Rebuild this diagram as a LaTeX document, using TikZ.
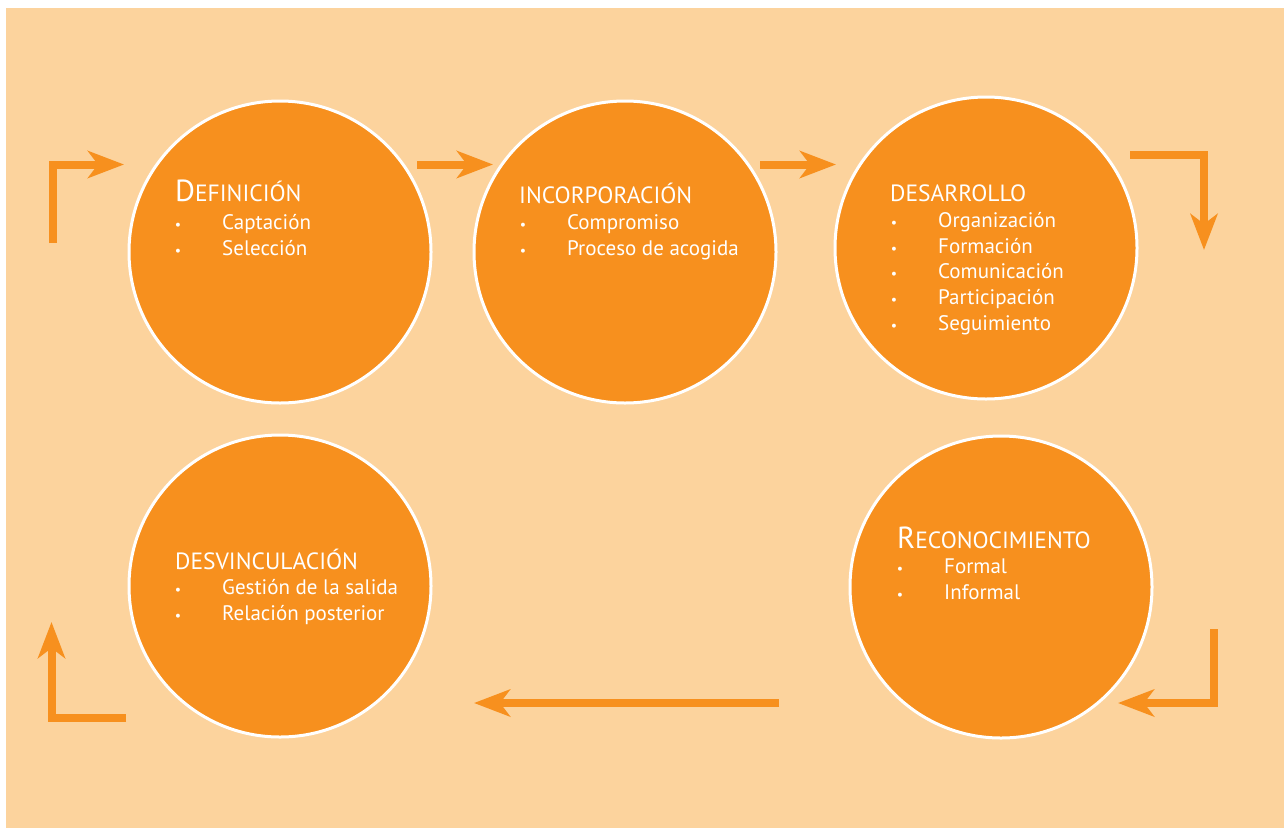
\documentclass[tikz,border=0pt]{standalone}
\usepackage{fontspec}
\setmainfont{PT Sans}
\usetikzlibrary{arrows.meta}
\definecolor{peach}{HTML}{FCD39D}
\definecolor{orng}{HTML}{F7901E}
\newcommand{\ttlfont}{\fontsize{23.5}{26}\selectfont}
\newcommand{\bigini}{\fontsize{30.5}{32}\selectfont}
\newcommand{\itmfont}{\fontsize{21}{25}\selectfont}
\tikzset{
  stage/.style={circle, fill=orng, draw=white, line width=3pt, minimum size=302pt, inner sep=0pt},
  ttl/.style={anchor=base west, text=white, font=\ttlfont, inner sep=0pt},
  itm/.style={anchor=base west, text=white, font=\itmfont, inner sep=0pt},
  bul/.style={anchor=base, text=white, font=\fontsize{14}{16}\selectfont, inner sep=0pt},
  flow/.style={draw=orng, line width=8pt, -{Stealth[length=36pt,width=27pt,inset=10pt]}},
}
\begin{document}
\begin{tikzpicture}[x=1pt,y=-1pt]
\useasboundingbox (0,0) rectangle (1284,828);
\fill[peach] (6,8) rectangle (1284,828);

\node[stage] (c1) at (280,252) {};
\node[stage] (c2) at (625,252) {};
\node[stage] (c3) at (986,248) {};
\node[stage] (c4) at (1001,587) {};
\node[stage] (c5) at (280,586) {};

% circle 1
\node[ttl] (t1) at (175,201) {{\bigini D}EFINICIÓN};
\node[bul] (b11) at (178,229) {•};
\node[itm] (i11) at (222,229) {Captación};
\node[bul] (b12) at (178,255) {•};
\node[itm] (i12) at (222,255) {Selección};

% circle 2
\node[ttl] (t2) at (519,203) {INCORPORACIÓN};
\node[bul] (b21) at (523,229) {•};
\node[itm] (i21) at (567,229) {Compromiso};
\node[bul] (b22) at (523,255) {•};
\node[itm] (i22) at (567,255) {Proceso de acogida};

% circle 3
\node[ttl] (t3) at (890,201) {DESARROLLO};
\node[bul] (b31) at (894,227) {•};
\node[itm] (i31) at (938,227) {Organización};
\node[bul] (b32) at (894,253) {•};
\node[itm] (i32) at (938,253) {Formación};
\node[bul] (b33) at (894,278) {•};
\node[itm] (i33) at (938,278) {Comunicación};
\node[bul] (b34) at (894,304) {•};
\node[itm] (i34) at (938,304) {Participación};
\node[bul] (b35) at (894,330) {•};
\node[itm] (i35) at (938,330) {Seguimiento};

% circle 4
\node[ttl] (t4) at (897,548) {{\bigini R}ECONOCIMIENTO};
\node[bul] (b41) at (900,573) {•};
\node[itm] (i41) at (944,573) {Formal};
\node[bul] (b42) at (900,599) {•};
\node[itm] (i42) at (944,599) {Informal};

% circle 5
\node[ttl] (t5) at (175,569) {DESVINCULACIÓN};
\node[bul] (b51) at (178,594) {•};
\node[itm] (i51) at (222,594) {Gestión de la salida};
\node[bul] (b52) at (178,620) {•};
\node[itm] (i52) at (222,620) {Relación posterior};

% arrows
\coordinate (a1s) at (53,243);
\coordinate (a1e) at (124,164.5);
\draw[flow] (a1s) |- (a1e);

\coordinate (a2s) at (417,164.5);
\coordinate (a2e) at (493,164.5);
\draw[flow] (a2s) -- (a2e);

\coordinate (a3s) at (760,164.5);
\coordinate (a3e) at (836,164.5);
\draw[flow] (a3s) -- (a3e);

\coordinate (a4s) at (1130,155);
\coordinate (a4e) at (1204,250);
\draw[flow] (a4s) -| (a4e);

\coordinate (a5s) at (1214,629);
\coordinate (a5e) at (1118,703);
\draw[flow] (a5s) |- (a5e);

\coordinate (a6s) at (779,703);
\coordinate (a6e) at (474,703);
\draw[flow] (a6s) -- (a6e);

\coordinate (a7s) at (126,718);
\coordinate (a7e) at (51.5,622);
\draw[flow] (a7s) -| (a7e);
\end{tikzpicture}
\end{document}
